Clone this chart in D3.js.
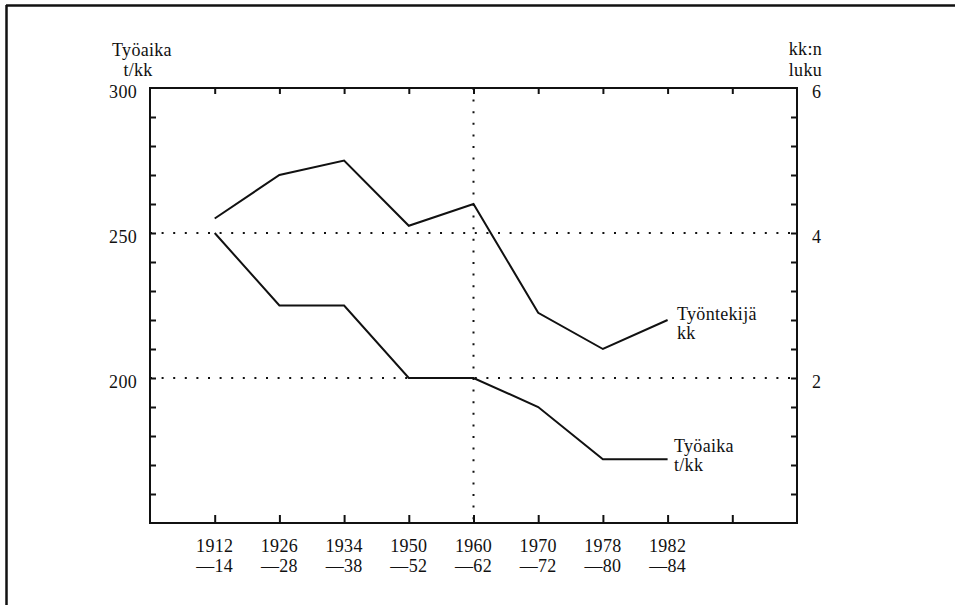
<!DOCTYPE html>
<html>
<head>
<meta charset="utf-8">
<script src="https://cdn.jsdelivr.net/npm/d3@7/dist/d3.min.js"></script>
<style>
  html, body { margin: 0; padding: 0; background: #fff; }
</style>
</head>
<body>
<svg id="chart" width="955" height="605"></svg>
<script>
// ---- data ----
const periodStart = ["1912", "1926", "1934", "1950", "1960", "1970", "1978", "1982"];
const periodEnd   = ["—14", "—28", "—38", "—52", "—62", "—72", "—80", "—84"];
const tyoaika     = [250, 225, 225, 200, 200, 190, 172, 172];     // t/kk, left axis
const tyontekija  = [4.2, 4.8, 5.0, 4.1, 4.4, 2.9, 2.4, 2.8];      // kk:n luku, right axis
const leftTicks   = [200, 250, 300];
const rightTicks  = [2, 4, 6];

// ---- layout ----
const svg = d3.select("#chart");
const L = 150, R = 797, T = 88, B = 523;
const x = d3.scaleLinear().domain([0, 10]).range([L, R]);
const yL = d3.scaleLinear().domain([150, 300]).range([B, T]);
const yR = d3.scaleLinear().domain([0, 6]).range([B, T]);
const ink = "#111";
const serif = "'Liberation Serif', 'Times New Roman', serif";

// outer frame (top and left edges)
svg.append("line").attr("x1", 6).attr("x2", 955).attr("y1", 5.5).attr("y2", 5.5)
  .attr("stroke", ink).attr("stroke-width", 2.5);
svg.append("line").attr("x1", 6.5).attr("x2", 6.5).attr("y1", 5).attr("y2", 605)
  .attr("stroke", ink).attr("stroke-width", 2.5);

// dotted grid
const dots = "2,9.6";
[250, 200].forEach(v => {
  svg.append("line").attr("x1", L).attr("x2", R).attr("y1", yL(v)).attr("y2", yL(v))
    .attr("stroke", ink).attr("stroke-width", 2).attr("stroke-dasharray", dots);
});
svg.append("line").attr("x1", x(5)).attr("x2", x(5)).attr("y1", T).attr("y2", B)
  .attr("stroke", ink).attr("stroke-width", 2).attr("stroke-dasharray", dots);

// axes
const idx = d3.range(1, 10);
const gL = svg.append("g").attr("transform", `translate(${L},0)`)
  .call(d3.axisRight(yL).tickValues(d3.range(160, 300, 10)).tickSize(6).tickFormat(""));
const gR = svg.append("g").attr("transform", `translate(${R},0)`)
  .call(d3.axisLeft(yR).tickValues(d3.range(0.4, 6, 0.4)).tickSize(6).tickFormat(""));
const gT = svg.append("g").attr("transform", `translate(0,${T})`)
  .call(d3.axisBottom(x).tickValues(idx).tickSize(6).tickFormat(""));
const gB = svg.append("g").attr("transform", `translate(0,${B})`)
  .call(d3.axisTop(x).tickValues(idx).tickSize(8).tickFormat(""));
[gL, gR, gT, gB].forEach(g => {
  g.select(".domain").remove();
  g.selectAll(".tick line").attr("stroke", ink).attr("stroke-width", 2);
});
// frame of plot
svg.append("rect").attr("x", L).attr("y", T).attr("width", R - L).attr("height", B - T)
  .attr("fill", "none").attr("stroke", ink).attr("stroke-width", 2);

// text helper
const fs = 18;
function label(px, py, str, anchor) {
  return svg.append("text").attr("x", px).attr("y", py)
    .attr("text-anchor", anchor || "start")
    .attr("font-family", serif).attr("font-size", fs)
    .attr("letter-spacing", 0.3).attr("fill", ink).text(str);
}

leftTicks.forEach(d => label(137, yL(d) + 10, d, "end"));
rightTicks.forEach(d => label(812, yR(d) + 10, d, "start"));

label(142, 56, "Työaika", "middle");
label(138, 76, "t/kk", "middle");
label(822, 55, "kk:n", "end");
label(822, 76, "luku", "end");

periodStart.forEach((d, i) => label(x(i + 1), 552, d, "middle"));
periodEnd.forEach((d, i) => label(x(i + 1), 572, d, "middle"));

// lines
const lineL = d3.line().x((d, i) => x(i + 1)).y(d => yL(d));
const lineR = d3.line().x((d, i) => x(i + 1)).y(d => yR(d));
svg.append("path").datum(tyoaika).attr("d", lineL)
  .attr("fill", "none").attr("stroke", ink).attr("stroke-width", 2);
svg.append("path").datum(tyontekija).attr("d", lineR)
  .attr("fill", "none").attr("stroke", ink).attr("stroke-width", 2);

// series labels
label(677, 320, "Työntekijä");
label(677, 339, "kk");
label(674, 452, "Työaika");
label(674, 471, "t/kk");
</script>
</body>
</html>
